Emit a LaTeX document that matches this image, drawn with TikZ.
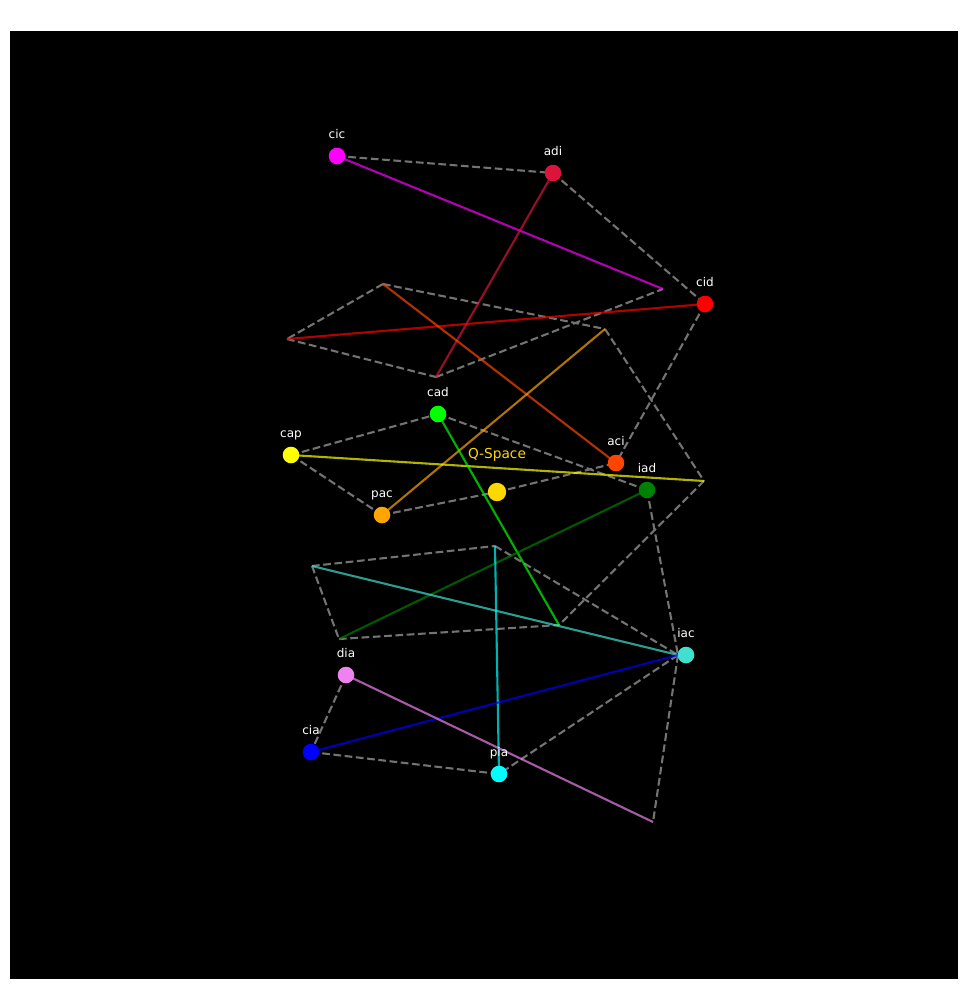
\documentclass[tikz,border=0pt]{standalone}
\usepackage{fontspec}
\setmainfont{DejaVu Sans}
\definecolor{cmagenta}{HTML}{FF00FF}
\definecolor{ccrimson}{HTML}{DC143C}
\definecolor{cred}{HTML}{FF0000}
\definecolor{clime}{HTML}{00FF00}
\definecolor{cyellow}{HTML}{FFFF00}
\definecolor{corangered}{HTML}{FF4500}
\definecolor{cdarkgreen}{HTML}{008000}
\definecolor{corange}{HTML}{FFA500}
\definecolor{cgold}{HTML}{FFD700}
\definecolor{cturq}{HTML}{40E0D0}
\definecolor{cviolet}{HTML}{EE82EE}
\definecolor{cblue}{HTML}{0000FF}
\definecolor{ccyan}{HTML}{00FFFF}
\definecolor{cgray}{HTML}{737373}
\begin{document}
\begin{tikzpicture}[x=1pt,y=-1pt,
  dot/.style={circle,inner sep=0pt,minimum size=16.6pt},
  lbl/.style={text=white,anchor=base,font=\fontsize{12}{12}\selectfont,inner sep=0pt},
  dashline/.style={draw=cgray,line width=2.1pt,dash pattern=on 7.7pt off 3.6pt},
  link/.style={line width=2.1pt,opacity=0.7}]
\useasboundingbox (0,0) rectangle (967,989);
\fill[white] (0,0) rectangle (967,989);
\fill[black] (10,31) rectangle (958,979);
% free points
\coordinate (p1) at (663,289);
\coordinate (p2) at (383,284);
\coordinate (p3) at (287,339);
\coordinate (p4) at (436,377);
\coordinate (p5) at (605,329);
\coordinate (p6) at (704,481);
\coordinate (p7) at (495,546);
\coordinate (p8) at (312,566);
\coordinate (p9) at (339,639);
\coordinate (p10) at (559,625);
\coordinate (p11) at (653,822);
\coordinate (iacend) at (678,655);
% node positions
\coordinate (cic) at (337,156);
\coordinate (adi) at (553,173);
\coordinate (cid) at (705,304);
\coordinate (cad) at (438,414);
\coordinate (cap) at (291,455);
\coordinate (aci) at (616,463);
\coordinate (iad) at (647,490);
\coordinate (pac) at (382,515);
\coordinate (q) at (497,492);
\coordinate (iac) at (686,655);
\coordinate (dia) at (346,675);
\coordinate (cia) at (311,752);
\coordinate (pia) at (499,774);
% dashed gray
\draw[dashline] (cic) -- (adi);
\draw[dashline] (adi) -- (cid);
\draw[dashline] (cid) -- (aci);
\draw[dashline] (p2) -- (p3);
\draw[dashline] (p3) -- (p4);
\draw[dashline] (p4) -- (p1);
\draw[dashline] (p2) -- (p5);
\draw[dashline] (p5) -- (p6);
\draw[dashline] (p6) -- (p10);
\draw[dashline] (cap) -- (cad);
\draw[dashline] (cap) -- (pac);
\draw[dashline] (cad) -- (iad);
\draw[dashline] (pac) -- (q);
\draw[dashline] (q) -- (aci);
\draw[dashline] (p8) -- (p7);
\draw[dashline] (p8) -- (p9);
\draw[dashline] (p9) -- (p10);
\draw[dashline] (p7) -- (iacend);
\draw[dashline] (iad) -- (iacend);
\draw[dashline] (iacend) -- (pia);
\draw[dashline] (iacend) -- (p11);
\draw[dashline] (dia) -- (cia);
\draw[dashline] (cia) -- (pia);
% coloured links
\draw[link,cmagenta] (cic) -- (p1);
\draw[link,ccrimson] (adi) -- (p4);
\draw[link,cred] (cid) -- (p3);
\draw[link,corangered] (aci) -- (p2);
\draw[link,corange] (pac) -- (p5);
\draw[link,cyellow] (cap) -- (p6);
\draw[link,clime] (cad) -- (p10);
\draw[link,cdarkgreen] (iad) -- (p9);
\draw[link,cturq] (iacend) -- (p8);
\draw[link,ccyan] (pia) -- (p7);
\draw[link,cblue] (cia) -- (iacend);
\draw[link,cviolet] (dia) -- (p11);
% nodes
\node[dot,fill=cmagenta] (ncic) at (cic) {};
\node[dot,fill=ccrimson] (nadi) at (adi) {};
\node[dot,fill=cred] (ncid) at (cid) {};
\node[dot,fill=clime] (ncad) at (cad) {};
\node[dot,fill=cyellow] (ncap) at (cap) {};
\node[dot,fill=corangered] (naci) at (aci) {};
\node[dot,fill=cdarkgreen] (niad) at (iad) {};
\node[dot,fill=corange] (npac) at (pac) {};
\node[dot,fill=cgold,minimum size=18.4pt] (nq) at (q) {};
\node[dot,fill=cturq] (niac) at (iac) {};
\node[dot,fill=cviolet] (ndia) at (dia) {};
\node[dot,fill=cblue] (ncia) at (cia) {};
\node[dot,fill=ccyan] (npia) at (pia) {};
% labels
\node[lbl] (lcic) at ([yshift=17.5pt]cic) {cic};
\node[lbl] (ladi) at ([yshift=17.5pt]adi) {adi};
\node[lbl] (lcid) at ([yshift=17.5pt]cid) {cid};
\node[lbl] (lcad) at ([yshift=17.5pt]cad) {cad};
\node[lbl] (lcap) at ([yshift=17.5pt]cap) {cap};
\node[lbl] (laci) at ([yshift=17.5pt]aci) {aci};
\node[lbl] (liad) at ([yshift=17.5pt]iad) {iad};
\node[lbl] (lpac) at ([yshift=17.5pt]pac) {pac};
\node[lbl] (liac) at ([yshift=17.5pt]iac) {iac};
\node[lbl] (ldia) at ([yshift=17.5pt]dia) {dia};
\node[lbl] (lcia) at ([yshift=17.5pt]cia) {cia};
\node[lbl] (lpia) at ([yshift=17.5pt]pia) {pia};
\node[lbl,text=cgold,font=\fontsize{13.7}{14}\selectfont] (lq) at (497,458.3) {Q-Space};
\end{tikzpicture}
\end{document}
